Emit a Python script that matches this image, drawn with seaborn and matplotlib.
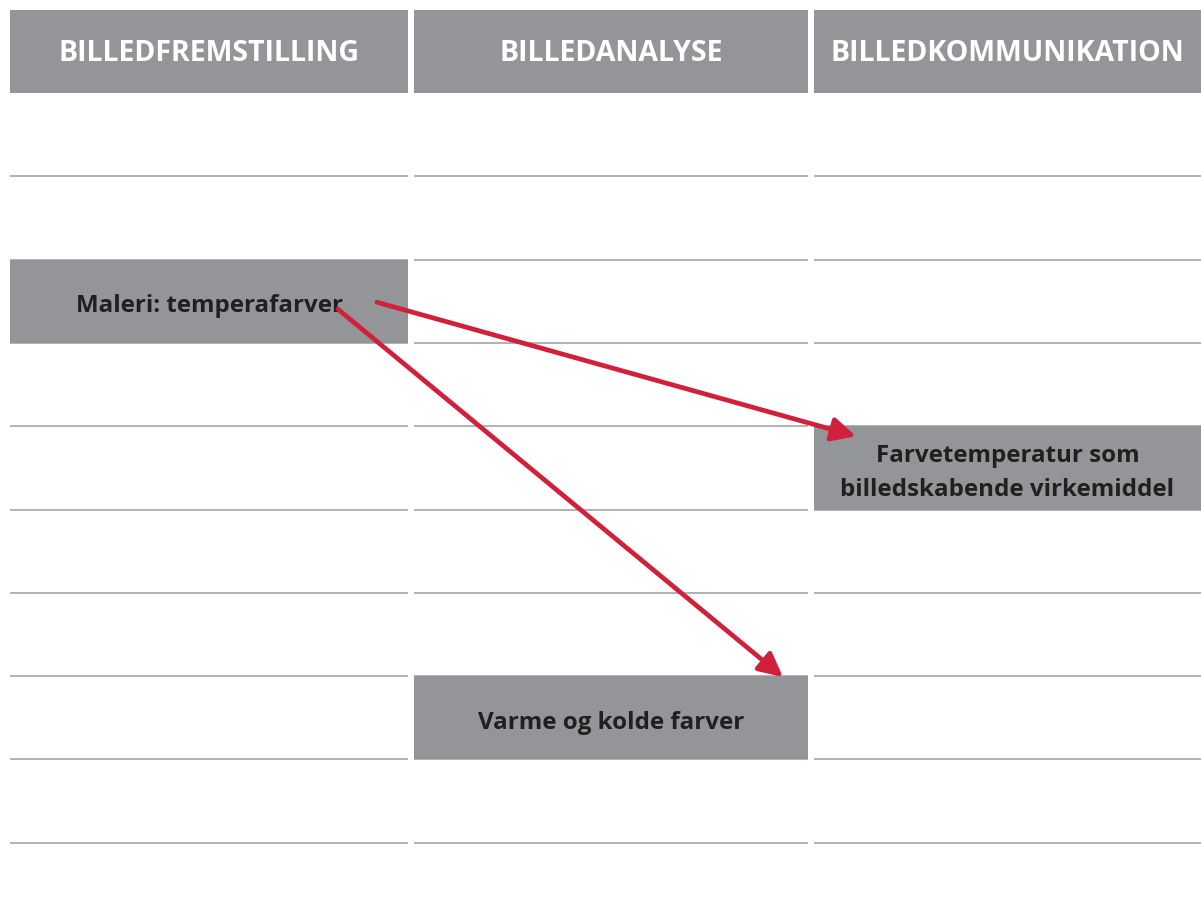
"""
Three-column concept chart: image making, image analysis, image communication
"""
import matplotlib.pyplot as plt
import seaborn as sns
from matplotlib.patches import Rectangle, FancyArrowPatch

# column headers
headers = ["BILLEDFREMSTILLING", "BILLEDANALYSE", "BILLEDKOMMUNIKATION"]

# highlighted cells: column index, row index, text
box_cols = [0, 2, 1]
box_rows = [2, 4, 7]
box_labels = [
    "Maleri: temperafarver",
    "Farvetemperatur som\nbilledskabende virkemiddel",
    "Varme og kolde farver",
]

# arrows between highlighted cells (index into the boxes above)
arrow_from = [0, 0]
arrow_to = [1, 2]

n_rows = 9

# layout (pixels)
W, H = 1201, 919
col_left = [10, 414, 814]
col_right = [408, 808, 1201]
head_top, head_bottom = 10, 93
row_h = 83.3

grey = "#939598"
line_grey = "#a9abae"
red = "#d21f3a"
dark = "#231f20"

sns.set_theme(style="white")
plt.rcParams["font.family"] = ["Open Sans", "DejaVu Sans"]

fig = plt.figure(figsize=(W / 100, H / 100), dpi=100)
ax = fig.add_axes([0, 0, 1, 1])
ax.set_xlim(0, W)
ax.set_ylim(H, 0)
ax.axis("off")


def row_top(r):
    return head_bottom + row_h * r


# headers
for c, name in enumerate(headers):
    x0, x1 = col_left[c], col_right[c]
    ax.add_patch(Rectangle((x0, head_top), x1 - x0, head_bottom - head_top,
                           facecolor=grey, edgecolor="none", zorder=1))
    ax.text((x0 + x1) / 2, (head_top + head_bottom) / 2 + 2, name,
            ha="center", va="center", color="white", fontsize=20.5,
            fontweight="bold", zorder=3)

# row separators
for c in range(3):
    for r in range(n_rows):
        y = row_top(r + 1)
        ax.plot([col_left[c], col_right[c]], [y, y], color=line_grey,
                lw=1.3, zorder=0.5, solid_capstyle="butt")

# highlighted boxes
centers = []
for c, r, label in zip(box_cols, box_rows, box_labels):
    x0, x1 = col_left[c], col_right[c]
    y0 = row_top(r)
    ax.add_patch(Rectangle((x0, y0), x1 - x0, row_h,
                           facecolor=grey, edgecolor="none", zorder=1))
    ax.text((x0 + x1) / 2, y0 + row_h / 2 + 5, label, ha="center",
            va="center", color=dark, fontsize=17.4, fontweight="bold",
            linespacing=1.55, zorder=3)
    centers.append(((x0 + x1) / 2, y0 + row_h / 2))

# arrow start offsets (from source box centre) and tip offsets
start_off = [(168, 1), (129, 8)]
for i, (a, b) in enumerate(zip(arrow_from, arrow_to)):
    sx, sy = centers[a][0] + start_off[i][0], centers[a][1] + start_off[i][1]
    c, r = box_cols[b], box_rows[b]
    if c == 2:
        ex, ey = col_left[c] + 42, row_top(r) + 10
    else:
        ex, ey = col_right[c] - 25, row_top(r) + 1
    ax.add_patch(FancyArrowPatch((sx, sy), (ex, ey), arrowstyle="-|>",
                                 mutation_scale=36, lw=3.4, color=red,
                                 shrinkA=0, shrinkB=0, zorder=4))

fig.savefig("out.png", dpi=100)
plt.close(fig)
